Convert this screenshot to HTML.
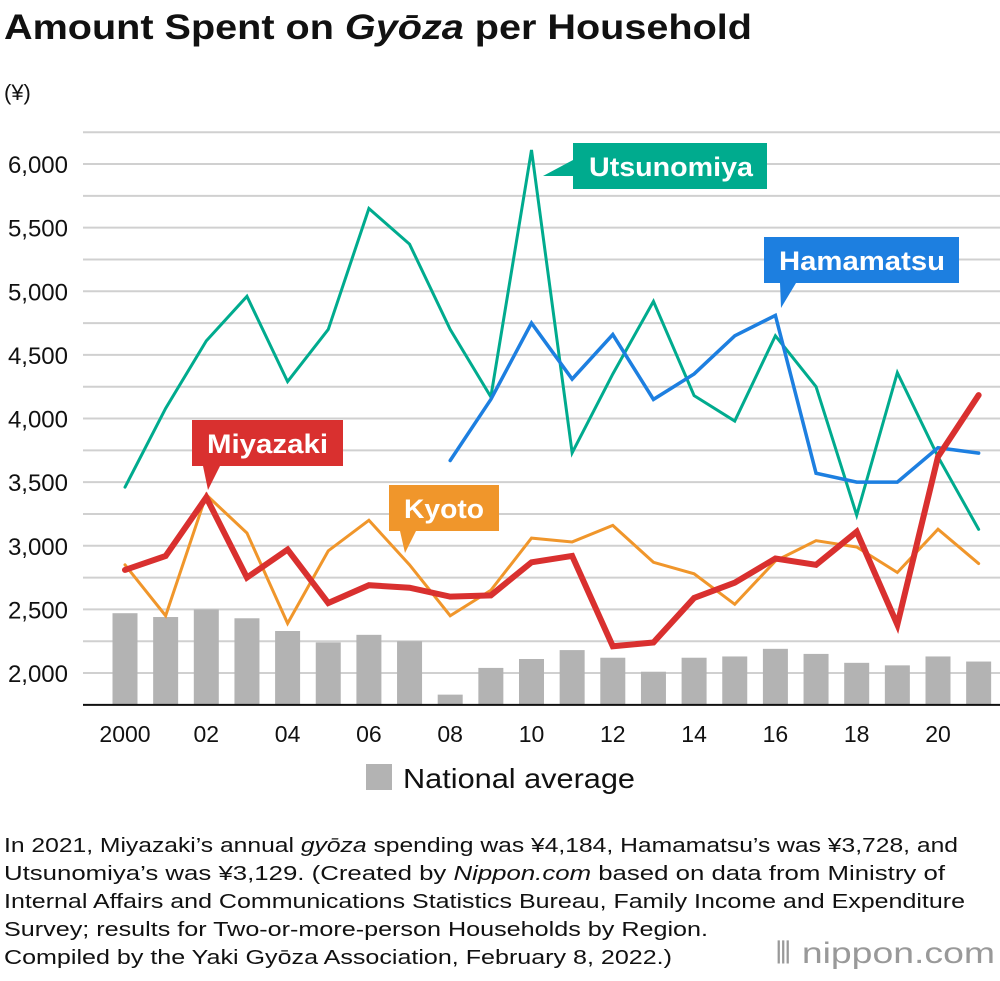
<!DOCTYPE html>
<html><head><meta charset="utf-8"><style>
body{margin:0;background:#fff;font-family:"Liberation Sans",sans-serif;}
svg text{font-family:"Liberation Sans",sans-serif;}
</style></head><body>
<svg width="1000" height="976" viewBox="0 0 1000 976" xmlns="http://www.w3.org/2000/svg">
<text x="4" y="39" font-size="35" font-weight="bold" fill="#111" textLength="748" lengthAdjust="spacingAndGlyphs">Amount Spent on <tspan font-style="italic">Gyōza</tspan> per Household</text>
<text x="4" y="100" font-size="22" fill="#111">(¥)</text>
<g id="grid"></g><g id="bars"></g><g id="lines"></g><g id="axes"></g>
<g><rect x="573" y="143" width="194" height="46" fill="#00ab8e"/><polygon points="573,160 573,176 543,176" fill="#00ab8e"/><text x="589" y="176" font-size="27" font-weight="bold" fill="#fff" textLength="164" lengthAdjust="spacingAndGlyphs">Utsunomiya</text></g>
<g><rect x="764" y="237" width="195" height="46" fill="#1d7fe0"/><polygon points="780,283 796,283 781,308" fill="#1d7fe0"/><text x="779" y="270" font-size="27" font-weight="bold" fill="#fff" textLength="166" lengthAdjust="spacingAndGlyphs">Hamamatsu</text></g>
<g><rect x="192" y="420" width="151" height="46" fill="#d9302f"/><polygon points="203,466 220,466 208,490" fill="#d9302f"/><text x="207" y="453" font-size="27" font-weight="bold" fill="#fff" textLength="121" lengthAdjust="spacingAndGlyphs">Miyazaki</text></g>
<g><rect x="389" y="485" width="110" height="46" fill="#f0962b"/><polygon points="400,531 416,531 405,553" fill="#f0962b"/><text x="404" y="518" font-size="27" font-weight="bold" fill="#fff" textLength="80" lengthAdjust="spacingAndGlyphs">Kyoto</text></g>
<g><rect x="366" y="764" width="26" height="26" fill="#b3b3b3"/><text x="403" y="788" font-size="28" fill="#111" textLength="232" lengthAdjust="spacingAndGlyphs">National average</text></g>
<g font-size="20" fill="#111">
<text x="4" y="852" textLength="954" lengthAdjust="spacingAndGlyphs">In 2021, Miyazaki’s annual <tspan font-style="italic">gyōza</tspan> spending was ¥4,184, Hamamatsu’s was ¥3,728, and</text>
<text x="4" y="880" textLength="941" lengthAdjust="spacingAndGlyphs">Utsunomiya’s was ¥3,129. (Created by <tspan font-style="italic">Nippon.com</tspan> based on data from Ministry of</text>
<text x="4" y="908" textLength="961" lengthAdjust="spacingAndGlyphs">Internal Affairs and Communications Statistics Bureau, Family Income and Expenditure</text>
<text x="4" y="936" textLength="704" lengthAdjust="spacingAndGlyphs">Survey; results for Two-or-more-person Households by Region.</text>
<text x="4" y="964" textLength="668" lengthAdjust="spacingAndGlyphs">Compiled by the Yaki Gyōza Association, February 8, 2022.)</text></g>
<text x="775" y="963" font-size="30" fill="#999" textLength="220" lengthAdjust="spacingAndGlyphs">⦀ nippon.com</text>
</svg>
<script>
const years=[2000,2001,2002,2003,2004,2005,2006,2007,2008,2009,2010,2011,2012,2013,2014,2015,2016,2017,2018,2019,2020,2021];
const xTickLabels=["2000","02","04","06","08","10","12","14","16","18","20"];
const yTicks=[2000,2500,3000,3500,4000,4500,5000,5500,6000];
const national=[2470,2440,2500,2430,2330,2240,2300,2250,1830,2040,2110,2180,2120,2010,2120,2130,2190,2150,2080,2060,2130,2090];
const utsunomiya=[3460,4080,4610,4960,4290,4700,5650,5370,4700,4170,6110,3730,4350,4920,4180,3980,4650,4250,3240,4360,3700,3129];
const hamamatsuYears=[2008,2009,2010,2011,2012,2013,2014,2015,2016,2017,2018,2019,2020,2021];
const hamamatsu=[3670,4150,4750,4310,4660,4150,4350,4650,4810,3570,3500,3500,3770,3728];
const kyoto=[2850,2450,3400,3100,2390,2960,3200,2850,2450,2650,3060,3030,3160,2870,2780,2540,2880,3040,2990,2790,3130,2860];
const miyazaki=[2810,2920,3380,2750,2970,2550,2690,2670,2600,2610,2870,2920,2210,2240,2590,2710,2900,2850,3110,2380,3700,4184];
const NS="http://www.w3.org/2000/svg";
const X=y=>125+(y-2000)*40.65;
const Y=v=>673-(v-2000)*0.12725;
function mk(tag,attrs,parent){const e=document.createElementNS(NS,tag);for(const k in attrs)e.setAttribute(k,attrs[k]);document.getElementById(parent).appendChild(e);return e;}
for(let v=2000;v<=6250;v+=250){const l=mk('line',{x1:83,x2:1000,y1:Y(v),y2:Y(v),stroke:'#d0d0d0','stroke-width':2},'grid');

}
yTicks.forEach(v=>{const t=mk('text',{x:68,y:Y(v)+9,'font-size':24,'text-anchor':'end',fill:'#111'},'axes');t.textContent=v.toLocaleString('en-US');

});
xTickLabels.forEach((s,i)=>{const t=mk('text',{x:X(2000+i*2),y:742,'font-size':23,'text-anchor':'middle',fill:'#111'},'axes');t.textContent=s;

});
const ax=mk('line',{x1:83,x2:1000,y1:Y(1750),y2:Y(1750),stroke:'#111','stroke-width':2},'axes');


national.forEach((v,i)=>{const b=mk('rect',{x:X(years[i])-12.5,y:Y(v),width:25,height:Y(1750)-Y(v),fill:'#b3b3b3'},'bars');

});
function line(xs,vals,color,w,name){const p=mk('polyline',{points:vals.map((v,i)=>X(xs[i])+','+Y(v)).join(' '),fill:'none',stroke:color,'stroke-width':w,'stroke-linejoin':'miter','stroke-linecap':'round'},'lines');

}
line(years,kyoto,'#f0962b',3,'line-kyoto');
line(years,utsunomiya,'#00ab8e',3,'line-utsunomiya');
line(hamamatsuYears,hamamatsu,'#1d7fe0',3.5,'line-hamamatsu');
line(years,miyazaki,'#d9302f',6,'line-miyazaki');
</script>
</body></html>
